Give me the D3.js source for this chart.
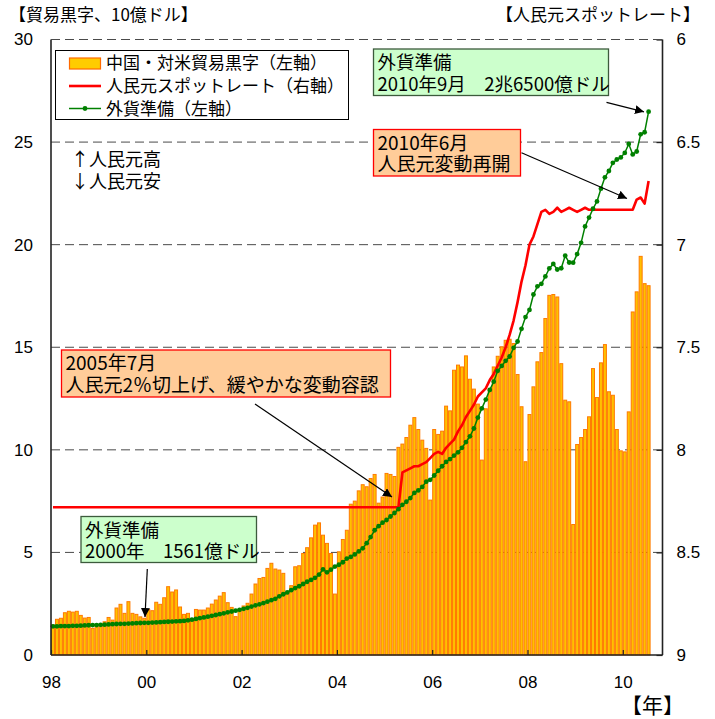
<!DOCTYPE html>
<html><head><meta charset="utf-8">
<script src="https://cdn.jsdelivr.net/npm/d3@7"></script>
<style>
body{margin:0;background:#fff;}
svg{display:block;}
text{font-family:"Noto Sans CJK JP","Noto Sans",sans-serif;fill:#000;}
.num text, text.num{font-family:"Liberation Sans",Arial,sans-serif;}
</style></head><body>
<svg id="c" width="715" height="719"></svg>
<script>
// Monthly data, Mar 1998 (index 0) ... Sep 2010 (index 150); axis spans 154 months (to Dec 2010)
const nCategories = 154;
const xTickIndex = [0, 24, 48, 72, 96, 120, 144];
const xTickLabels = ["98", "00", "02", "04", "06", "08", "10"];
const leftTicks = [0, 5, 10, 15, 20, 25, 30];
const rightTicks = [6, 6.5, 7, 7.5, 8, 8.5, 9];

// China - US trade surplus (10 billion USD, left axis)
const tradeSurplus = [
 1.46,1.74,1.79,2.06,2.13,2.09,2.13,1.93,1.80,1.83,
 1.30,1.38,1.51,1.62,1.83,1.70,2.29,2.47,2.03,2.60,
 2.03,1.98,1.86,1.79,2.22,2.16,2.57,2.47,2.79,3.33,
 3.07,3.17,2.34,1.98,2.03,1.70,2.22,2.19,2.19,2.29,
 2.48,2.68,2.87,3.04,2.55,2.32,1.87,2.22,2.39,2.52,
 2.97,3.46,3.73,3.78,4.22,4.47,4.19,4.14,3.98,2.97,
 3.38,4.30,4.35,4.95,5.23,5.71,6.33,6.44,5.84,5.44,
 4.95,2.97,5.03,5.63,6.08,7.35,7.50,8.00,8.30,8.20,
 8.60,8.80,7.40,7.70,8.85,8.80,8.70,10.12,10.28,10.60,
 11.20,11.57,10.99,10.47,10.07,7.55,10.99,10.75,10.91,12.13,
 11.90,13.88,14.13,14.04,14.58,13.44,12.96,12.23,9.50,12.00,
 12.99,14.04,14.56,15.02,15.34,15.39,15.18,13.67,12.10,9.42,
 11.72,13.07,14.29,14.74,16.40,17.53,17.57,17.45,14.20,12.42,
 12.34,6.36,10.26,10.60,10.99,11.61,13.96,12.55,14.24,15.13,
 12.83,12.66,10.99,9.95,9.90,11.85,16.72,17.70,19.43,18.10,
 18.00
];

// CNY spot rate per USD (right axis, inverted)
const cnyRate = [
 8.28,8.28,8.28,8.28,8.28,8.28,8.28,8.28,8.28,8.28,
 8.28,8.28,8.28,8.28,8.28,8.28,8.28,8.28,8.28,8.28,
 8.28,8.28,8.28,8.28,8.28,8.28,8.28,8.28,8.28,8.28,
 8.28,8.28,8.28,8.28,8.28,8.28,8.28,8.28,8.28,8.28,
 8.28,8.28,8.28,8.28,8.28,8.28,8.28,8.28,8.28,8.28,
 8.28,8.28,8.28,8.28,8.28,8.28,8.28,8.28,8.28,8.28,
 8.28,8.28,8.28,8.28,8.28,8.28,8.28,8.28,8.28,8.28,
 8.28,8.28,8.28,8.28,8.28,8.28,8.28,8.28,8.28,8.28,
 8.28,8.28,8.28,8.28,8.28,8.28,8.28,8.28,8.11,8.10,
 8.09,8.08,8.08,8.07,8.06,8.04,8.02,8.01,8.02,7.99,
 7.97,7.95,7.91,7.88,7.84,7.81,7.78,7.74,7.72,7.70,
 7.66,7.63,7.59,7.55,7.50,7.44,7.37,7.28,7.18,7.10,
 7.00,6.96,6.90,6.84,6.83,6.85,6.84,6.82,6.84,6.83,
 6.82,6.83,6.84,6.83,6.82,6.83,6.83,6.83,6.83,6.83,
 6.83,6.83,6.83,6.83,6.83,6.83,6.83,6.78,6.77,6.80,
 6.69
];

// Foreign exchange reserves (100 billion USD, left axis)
const fxReserves = [
 1.40,1.40,1.41,1.41,1.41,1.42,1.42,1.43,1.44,1.45,
 1.46,1.46,1.47,1.48,1.49,1.50,1.51,1.52,1.52,1.53,1.54,1.55,
 1.56,1.57,1.57,1.58,1.59,1.60,1.61,1.62,1.63,1.64,1.65,1.66,
 1.69,1.72,1.76,1.80,1.83,1.87,1.91,1.95,1.99,2.03,2.08,2.12,
 2.16,2.20,2.25,2.30,2.36,2.42,2.47,2.53,2.60,2.67,2.74,2.86,
 2.96,3.05,3.16,3.26,3.35,3.46,3.57,3.66,3.76,3.92,4.17,4.03,
 4.16,4.31,4.40,4.52,4.70,4.78,4.90,5.05,5.20,5.45,5.75,6.08,
 6.28,6.45,6.58,6.75,6.92,7.11,7.32,7.47,7.65,7.90,8.02,8.19,
 8.45,8.54,8.75,8.98,9.20,9.41,9.55,9.72,9.88,10.10,10.38,10.66,
 11.04,11.57,12.02,12.45,12.92,13.32,13.85,14.09,14.34,14.55,14.97,15.28,
 15.90,16.47,16.82,17.57,17.97,18.09,18.45,18.84,19.06,18.79,18.85,19.46,
 19.13,19.12,19.54,20.09,20.89,21.32,21.75,22.11,22.73,23.28,23.59,23.99,
 24.15,24.25,24.47,24.91,24.40,24.54,25.38,25.48,26.48
];

const legendLabels = ["中国・対米貿易黒字（左軸）", "人民元スポットレート（右軸）", "外貨準備（左軸）"];

const svg = d3.select("#c");
const L = 51, R = 662.5, T = 39.5, B = 655;

const x = d3.scaleLinear().domain([0, nCategories]).range([L, R]);
const yL = d3.scaleLinear().domain([0, 30]).range([B, T]);
const yR = d3.scaleLinear().domain([9, 6]).range([B, T]);

// gridlines (dashed)
svg.append("g").selectAll("line").data(leftTicks.filter(d => d > 0)).join("line")
  .attr("x1", L).attr("x2", R)
  .attr("y1", d => yL(d)).attr("y2", d => yL(d))
  .attr("stroke", "#4a4a4a").attr("stroke-width", 1).attr("stroke-dasharray", "9,5");

// bars
svg.append("g").selectAll("rect").data(tradeSurplus).join("rect")
  .attr("x", (d, i) => x(i) + 0.5)
  .attr("width", x(1) - x(0) - 1)
  .attr("y", d => yL(d))
  .attr("height", d => B - yL(d))
  .attr("fill", "#FFC000")
  .attr("stroke", "#FF7A00").attr("stroke-width", 1);

// red line
const lineR = d3.line().x((d, i) => x(i + 0.5)).y(d => yR(d));
svg.append("path").datum(cnyRate).attr("d", lineR)
  .attr("fill", "none").attr("stroke", "#FF0000").attr("stroke-width", 2.6)
  .attr("stroke-linejoin", "round");

// green line
const lineG = d3.line().x((d, i) => x(i + 0.5)).y(d => yL(d));
svg.append("path").datum(fxReserves).attr("d", lineG)
  .attr("fill", "none").attr("stroke", "#008000").attr("stroke-width", 1.5);
svg.append("g").selectAll("circle").data(fxReserves).join("circle")
  .attr("cx", (d, i) => x(i + 0.5)).attr("cy", d => yL(d)).attr("r", 2.4)
  .attr("fill", "#008000");

// axes
const axL = svg.append("g").attr("class", "num").attr("transform", `translate(${L},0)`)
  .call(d3.axisLeft(yL).tickValues(leftTicks).tickSize(0).tickPadding(18).tickFormat(d => String(d)));
const axR = svg.append("g").attr("class", "num").attr("transform", `translate(${R},0)`)
  .call(d3.axisRight(yR).tickValues(rightTicks).tickSizeInner(-6).tickSizeOuter(0).tickPadding(14).tickFormat(d => String(d)));
const axB = svg.append("g").attr("class", "num").attr("transform", `translate(0,${B})`)
  .call(d3.axisBottom(x).tickValues(xTickIndex).tickSizeInner(-5).tickSizeOuter(0).tickPadding(21)
    .tickFormat((d, i) => xTickLabels[i]));
[axL, axR, axB].forEach(a => {
  a.selectAll("text").attr("font-size", 17).attr("fill", "#000");
  a.select(".domain").attr("stroke", "#222").attr("stroke-width", 1.6);
  a.selectAll(".tick line").attr("stroke", "#222").attr("stroke-width", 1.2);
});
axL.select(".domain").attr("d", `M0,${T}V${B}`);
axR.select(".domain").attr("d", `M0,${T}V${B}`);
axB.select(".domain").attr("d", `M${L},0H${R}`);
// top dashed border over bars
svg.append("line").attr("x1", L).attr("x2", R).attr("y1", T).attr("y2", T)
  .attr("stroke", "#4a4a4a").attr("stroke-width", 1).attr("stroke-dasharray", "9,5");

// titles
svg.append("text").attr("x", 9).attr("y", 21).attr("font-size", 17).text("【貿易黒字、10億ドル】");
svg.append("text").attr("x", 496).attr("y", 21).attr("font-size", 17).text("【人民元スポットレート】");
svg.append("text").attr("x", 621).attr("y", 712.5).attr("font-size", 21).text("【年】");

// legend
const lg = svg.append("g");
lg.append("rect").attr("x", 55.5).attr("y", 50.5).attr("width", 293).attr("height", 69)
  .attr("fill", "#fff").attr("stroke", "#000").attr("stroke-width", 1);
lg.append("rect").attr("x", 69.5).attr("y", 58).attr("width", 31).attr("height", 11)
  .attr("fill", "#FFCC00").attr("stroke", "#FF6A00").attr("stroke-width", 1.2);
lg.append("line").attr("x1", 69).attr("x2", 101).attr("y1", 86).attr("y2", 86)
  .attr("stroke", "#FF0000").attr("stroke-width", 2.6);
lg.append("line").attr("x1", 69).attr("x2", 101).attr("y1", 108.5).attr("y2", 108.5)
  .attr("stroke", "#008000").attr("stroke-width", 1.5);
lg.append("circle").attr("cx", 85).attr("cy", 108.5).attr("r", 2.4).attr("fill", "#008000");
const lgText = lg.append("text").attr("font-size", 17);
lgText.selectAll("tspan").data(legendLabels).join("tspan")
  .attr("x", 106).attr("y", (d, i) => 62.7 + i * 23.3).attr("dy", "0.36em").text(d => d);

// up/down note (one multi-line text)
const note = svg.append("text").attr("font-size", 18);
["↑人民元高", "↓人民元安"].forEach((t, i) =>
  note.append("tspan").attr("x", 71).attr("y", 159.5 + i * 22).attr("dy", "0.36em").text(t));

// arrow marker
svg.append("defs").append("marker").attr("id", "ah").attr("viewBox", "0 0 10 10")
  .attr("refX", 10).attr("refY", 5).attr("markerWidth", 9).attr("markerHeight", 9)
  .attr("markerUnits", "userSpaceOnUse").attr("orient", "auto")
  .append("path").attr("d", "M0,0L10,5L0,10Z").attr("fill", "#000");

function box(x0, y0, w, h, fill, stroke, lines, fs) {
  const g = svg.append("g");
  g.append("rect").attr("x", x0).attr("y", y0).attr("width", w).attr("height", h)
    .attr("fill", fill).attr("stroke", stroke).attr("stroke-width", 1.3);
  const t = g.append("text").attr("font-size", fs);
  lines.forEach((s, i) => t.append("tspan").attr("x", x0 + 4).attr("y", y0 + 13.5 + i * 21.5)
    .attr("dy", "0.36em").text(s));
}
function arrow(x1, y1, x2, y2) {
  svg.append("line").attr("x1", x1).attr("y1", y1).attr("x2", x2).attr("y2", y2)
    .attr("stroke", "#000").attr("stroke-width", 1.2).attr("marker-end", "url(#ah)");
}

box(373.5, 49, 235, 46.5, "#CCFFCC", "#3c5a3c", ["外貨準備", "2010年9月　2兆6500億ドル"], 18.5);
arrow(606.5, 102.3, 644, 111.8);
box(373.5, 129.5, 147, 46.5, "#FFCC99", "#FF0000", ["2010年6月", "人民元変動再開"], 19);
arrow(521.5, 152.7, 627, 198.5);
box(61.5, 350, 329, 47, "#FFCC99", "#FF0000", ["2005年7月", "人民元2％切上げ、緩やかな変動容認"], 19);
arrow(255, 404, 392, 497);
box(81, 516.5, 175.5, 46, "#CCFFCC", "#3c5a3c", ["外貨準備", "2000年　1561億ドル"], 18.5);
arrow(147.3, 569, 145, 617);
</script>
</body></html>
